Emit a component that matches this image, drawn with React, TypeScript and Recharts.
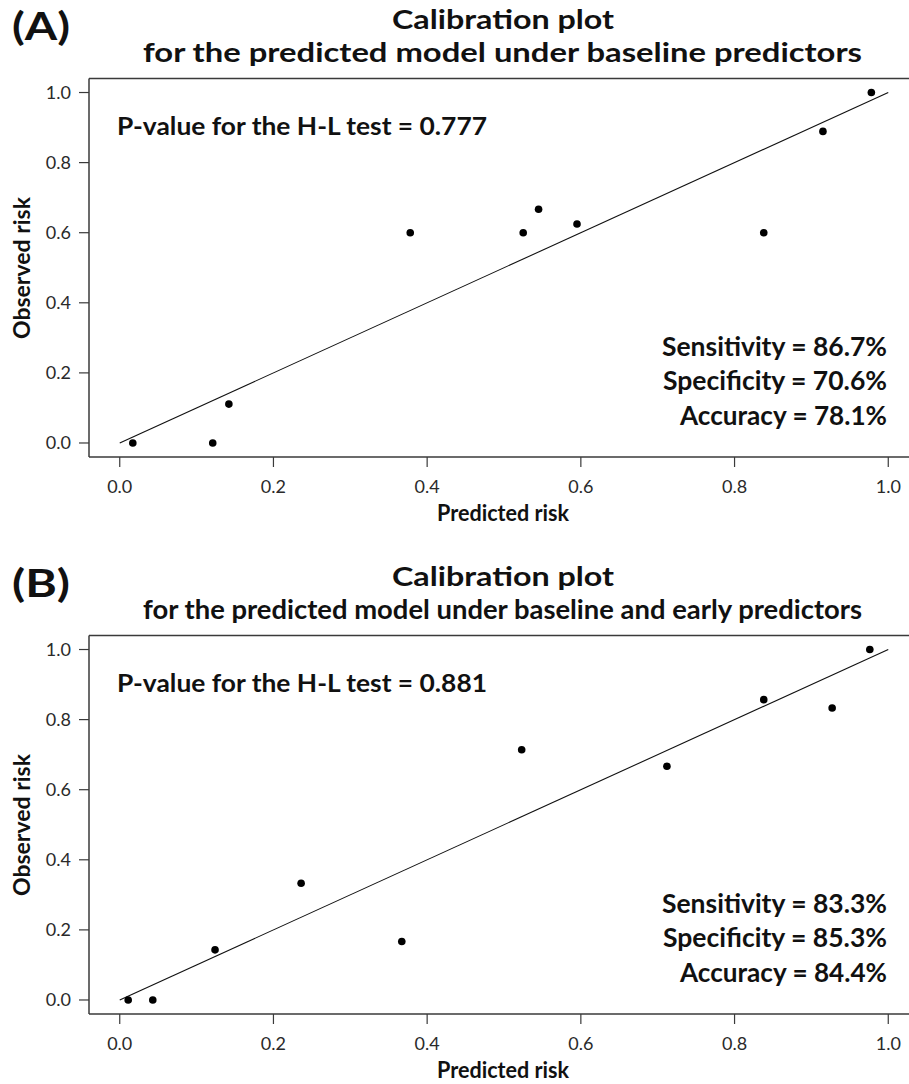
import React from 'react';
import { ScatterChart, Scatter, XAxis, YAxis, ReferenceLine } from 'recharts';

// axis ticks shared by both panels
const axisTicks = [0, 0.2, 0.4, 0.6, 0.8, 1.0];

// (A) baseline predictors
const predictedA = [0.017, 0.121, 0.142, 0.378, 0.525, 0.545, 0.595, 0.838, 0.915, 0.978];
const observedA = [0, 0, 0.111, 0.6, 0.6, 0.667, 0.625, 0.6, 0.889, 1.0];
const statsA = ['Sensitivity = 86.7%', 'Specificity = 70.6%', 'Accuracy = 78.1%'];

// (B) baseline and early predictors
const predictedB = [0.011, 0.043, 0.124, 0.236, 0.367, 0.523, 0.712, 0.838, 0.927, 0.976];
const observedB = [0, 0, 0.143, 0.333, 0.167, 0.714, 0.667, 0.857, 0.833, 1.0];
const statsB = ['Sensitivity = 83.3%', 'Specificity = 85.3%', 'Accuracy = 84.4%'];

const FONT = 'Lato, "Open Sans", sans-serif';
const AXIS = '#3a3a3a';

const Dot = (props: any) => <circle cx={props.cx} cy={props.cy} r={3.8} fill="#000" />;

const statLayout = [
  { x: 662, y: 356, len: 225 },
  { x: 663, y: 390, len: 224 },
  { x: 680, y: 424.5, len: 207 },
];

const Panel = ({ top, tag, subtitle, pValue, stats, xs, ys }: any) => {
  const data = xs.map((x: number, i: number) => ({ x, y: ys[i] }));
  return (
    <div style={{ position: 'absolute', left: 0, top, width: 940, height: 540 }}>
      <ScatterChart width={940} height={540} margin={{ top: 78.5, right: 21, bottom: 0, left: 0 }}>
        <XAxis
          type="number"
          dataKey="x"
          domain={[-0.04, 1.04]}
          ticks={axisTicks}
          interval={0}
          height={83}
          tickSize={10}
          tickMargin={13}
          tickFormatter={(v: number) => v.toFixed(1)}
          tick={{ fontFamily: FONT, fontSize: 18, fill: '#2a2a2a' }}
          axisLine={{ stroke: AXIS, strokeWidth: 1.5 }}
          tickLine={{ stroke: AXIS, strokeWidth: 1.2 }}
        />
        <YAxis
          type="number"
          dataKey="y"
          domain={[-0.04, 1.04]}
          ticks={axisTicks}
          interval={0}
          width={89}
          tickSize={10}
          tickMargin={8}
          tickFormatter={(v: number) => v.toFixed(1)}
          tick={{ fontFamily: FONT, fontSize: 18, fill: '#2a2a2a' }}
          axisLine={{ stroke: AXIS, strokeWidth: 1.5 }}
          tickLine={{ stroke: AXIS, strokeWidth: 1.2 }}
        />
        <ReferenceLine y={1.04} stroke={AXIS} strokeWidth={1.5} ifOverflow="visible" />
        <ReferenceLine x={1.04} stroke={AXIS} strokeWidth={1.5} ifOverflow="visible" />
        <ReferenceLine
          segment={[{ x: 0, y: 0 }, { x: 1, y: 1 }]}
          stroke="#111"
          strokeWidth={1.1}
          ifOverflow="visible"
        />
        <Scatter data={data} fill="#000" shape={Dot} isAnimationActive={false} />
      </ScatterChart>
      <svg
        width={940}
        height={540}
        style={{ position: 'absolute', left: 0, top: 0, pointerEvents: 'none' }}
        fontFamily={FONT}
        fontWeight="bold"
        fill="#111"
      >
        <text x={12} y={40} fontSize={39} textLength={58} lengthAdjust="spacingAndGlyphs">{tag}</text>
        <text x={503} y={29} fontSize={27} textAnchor="middle" textLength={222} lengthAdjust="spacingAndGlyphs">
          Calibration plot
        </text>
        <text x={143} y={62} fontSize={27} textLength={719} lengthAdjust="spacingAndGlyphs">{subtitle}</text>
        <text x={117} y={135} fontSize={25.5} textLength={370} lengthAdjust="spacingAndGlyphs">
          {`P-value for the H-L test = ${pValue}`}
        </text>
        {stats.map((s: string, i: number) => (
          <text
            key={s}
            x={statLayout[i].x}
            y={statLayout[i].y}
            fontSize={26}
            textLength={statLayout[i].len}
            lengthAdjust="spacingAndGlyphs"
          >
            {s}
          </text>
        ))}
        <text x={503} y={521} fontSize={22} textAnchor="middle" textLength={132} lengthAdjust="spacingAndGlyphs">
          Predicted risk
        </text>
        <text
          x={30}
          y={268}
          fontSize={23}
          textAnchor="middle"
          textLength={142}
          lengthAdjust="spacingAndGlyphs"
          transform="rotate(-90 30 268)"
        >
          Observed risk
        </text>
      </svg>
    </div>
  );
};

export default function App() {
  return (
    <div
      style={{
        position: 'absolute',
        left: 0,
        top: 0,
        width: 909,
        height: 1084,
        overflow: 'hidden',
        background: '#fff',
        fontFamily: FONT,
      }}
    >
      <Panel
        top={0}
        tag="(A)"
        subtitle="for the predicted model under baseline predictors"
        pValue="0.777"
        stats={statsA}
        xs={predictedA}
        ys={observedA}
      />
      <Panel
        top={557}
        tag="(B)"
        subtitle="for the predicted model under baseline and early predictors"
        pValue="0.881"
        stats={statsB}
        xs={predictedB}
        ys={observedB}
      />
    </div>
  );
}
